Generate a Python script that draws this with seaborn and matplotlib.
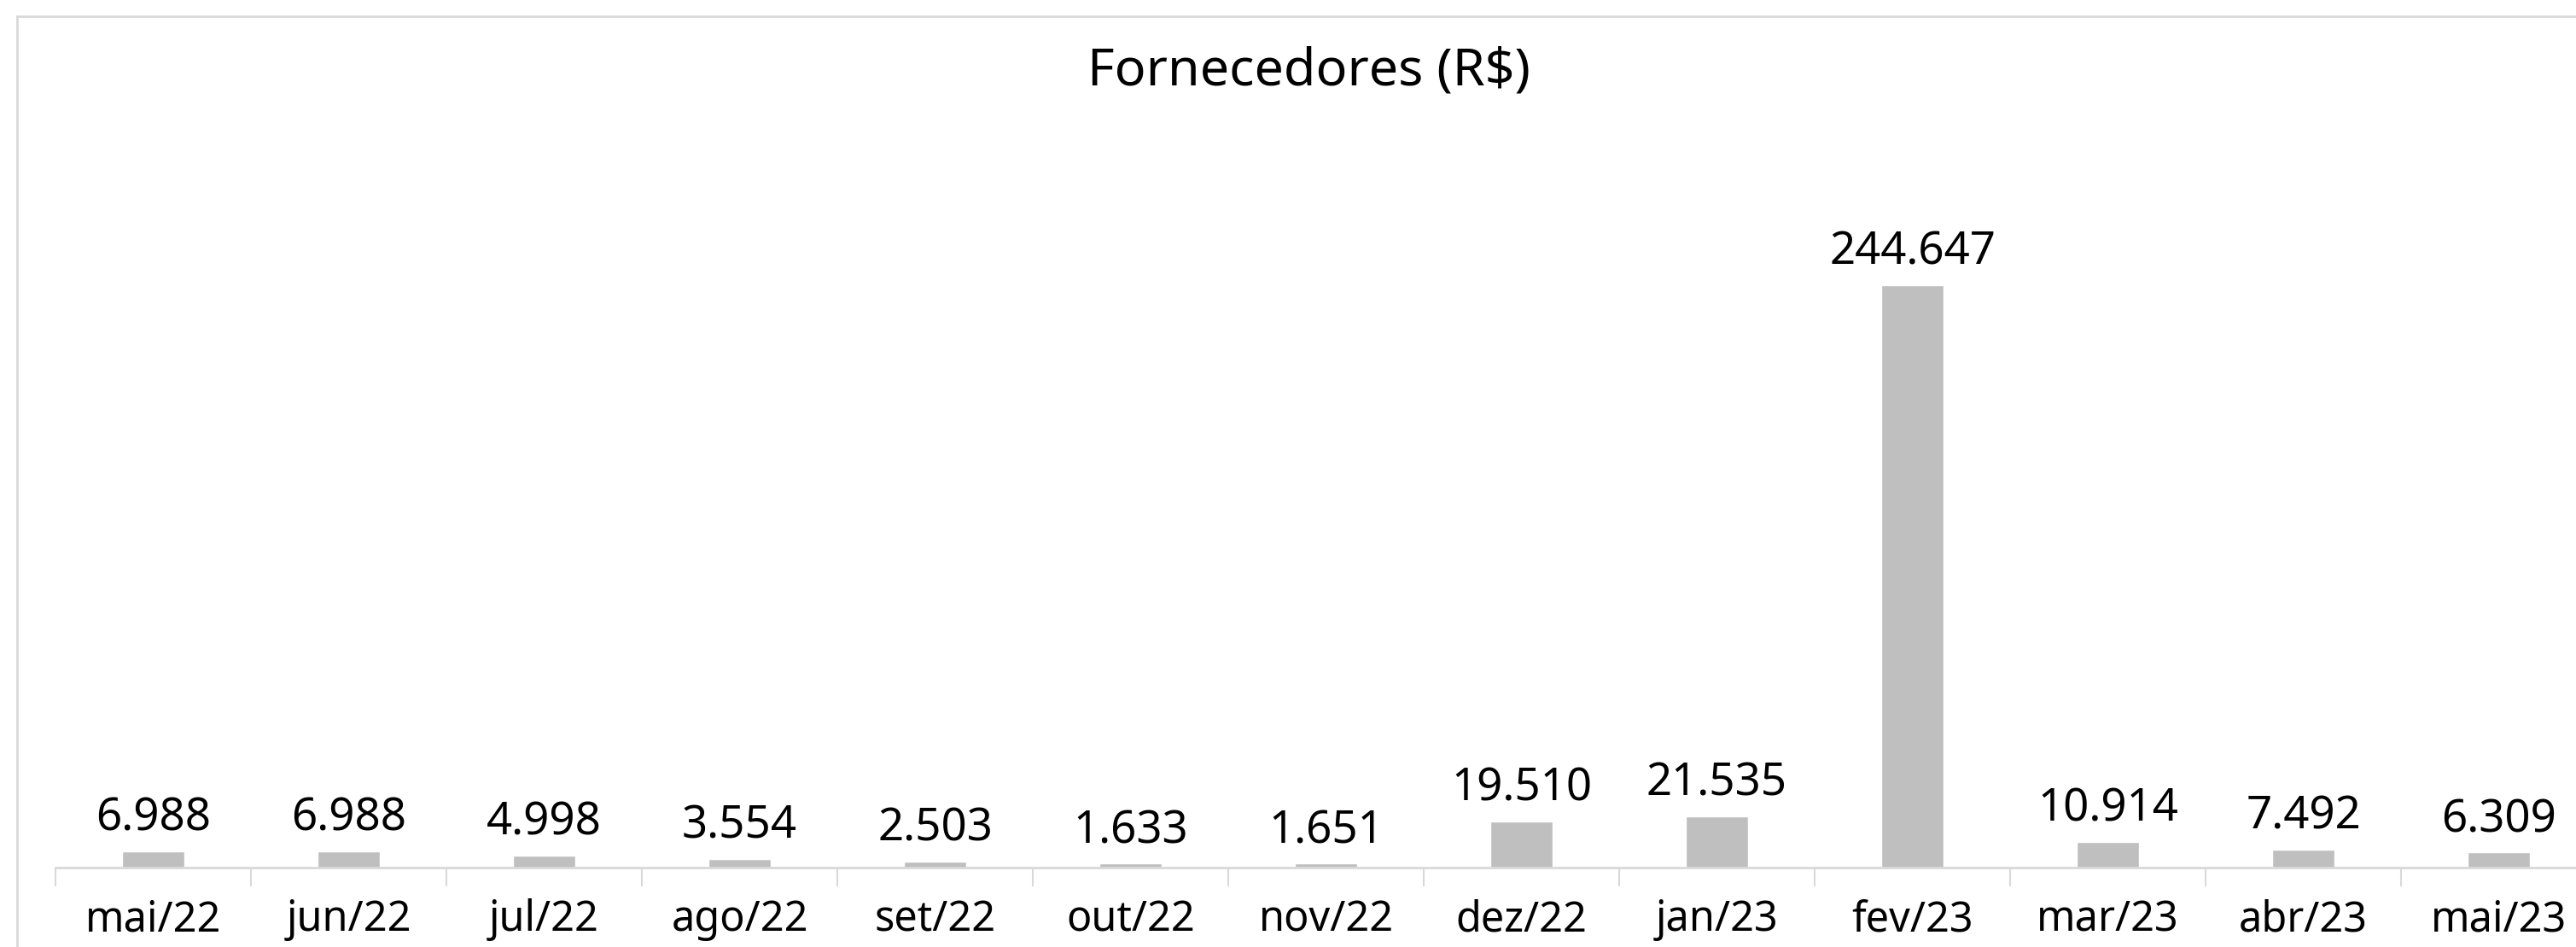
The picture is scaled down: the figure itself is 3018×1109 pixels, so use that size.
import matplotlib
matplotlib.use("Agg")
import matplotlib.pyplot as plt
import matplotlib.patches as mpatches
from matplotlib.ticker import FixedLocator
import seaborn as sns
import pandas as pd

# chart data
meses = ["mai/22", "jun/22", "jul/22", "ago/22", "set/22", "out/22", "nov/22",
         "dez/22", "jan/23", "fev/23", "mar/23", "abr/23", "mai/23"]
valores = [6988, 6988, 4998, 3554, 2503, 1633, 1651,
           19510, 21535, 244647, 10914, 7492, 6309]
titulo = "Fornecedores (R$)"

df = pd.DataFrame({"mes": meses, "valor": valores})

sns.set_style("white")
plt.rcParams["font.family"] = ["Noto Sans", "DejaVu Sans"]

fig = plt.figure(figsize=(30.18, 11.09), dpi=100)
# axes runs a bit past the right edge, like the cropped original
ax = fig.add_axes([65 / 3018, 93 / 1109, 2977 / 3018, 0.70])

sns.barplot(data=df, x="mes", y="valor", color="#bfbfbf", width=0.32,
            saturation=1, ax=ax)

ax.set_xlim(-0.5, len(meses) - 0.5)
ax.set_ylim(0, 278400)
ax.set_xlabel("")
ax.set_ylabel("")
ax.set_yticks([])

for s in ["top", "right", "left"]:
    ax.spines[s].set_visible(False)
ax.spines["bottom"].set_color("#d9d9d9")
ax.spines["bottom"].set_linewidth(2)

# separators between categories
ax.xaxis.set_minor_locator(FixedLocator([i - 0.5 for i in range(len(meses) + 1)]))
ax.tick_params(axis="x", which="minor", length=16, width=1.5, color="#d9d9d9",
               direction="out", bottom=True)
ax.tick_params(axis="x", which="major", length=0, pad=26, labelsize=35,
               labelcolor="black")

# value labels
for i, v in enumerate(valores):
    txt = f"{v:,}".replace(",", ".")
    ax.annotate(txt, (i, v), xytext=(0, 8), textcoords="offset points",
                ha="center", va="bottom", fontsize=38, color="black")

fig.text(0.508, 0.924, titulo, ha="center", va="center", fontsize=44,
         color="black")

# outer frame (cut off on right and bottom)
fig.patches.append(mpatches.Rectangle((20 / 3018, -0.1), 1.2, 1 - 19 / 1109 + 0.1,
                                      transform=fig.transFigure, fill=False,
                                      edgecolor="#d9d9d9", linewidth=2))

fig.savefig("out.png", dpi=100, facecolor="white")
